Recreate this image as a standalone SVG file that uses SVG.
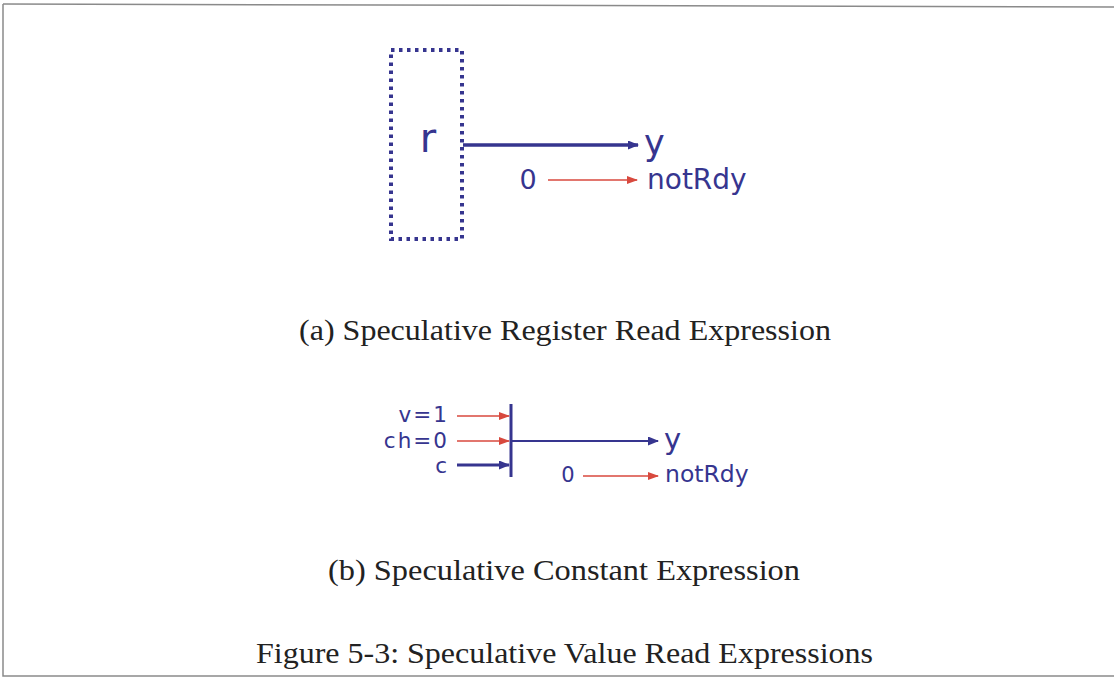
<svg xmlns="http://www.w3.org/2000/svg" width="1114" height="679" viewBox="0 0 1114 679">
<defs>
<style>
.lbl{font-family:"DejaVu Sans","Verdana",sans-serif;fill:#36358f}
.in{font-size:21.5px;letter-spacing:2px}
.cap{font-family:"Liberation Serif","Times New Roman",serif;fill:#222}
.blue{stroke:#36358f;fill:none}
.red{stroke:#d8493e;fill:none;stroke-width:1.6}
.frame{stroke:#8a8a8a;fill:none;stroke-width:1.5}
</style>
<marker id="ab" markerWidth="11" markerHeight="9" refX="10" refY="4.5" orient="auto" markerUnits="userSpaceOnUse">
<path d="M0,0 L11,4.5 L0,9 Z" fill="#36358f"/>
</marker>
<marker id="ar" markerWidth="11" markerHeight="8" refX="10" refY="4" orient="auto" markerUnits="userSpaceOnUse">
<path d="M0,0 L11,4 L0,8 Z" fill="#d8493e"/>
</marker>
</defs>
<rect width="1114" height="679" fill="#fff"/>
<g id="frame">
<path class="frame" d="M3,4 L1114,7"/>
<path class="frame" d="M3,4 L3,676 L1114,676"/>
</g>

<g id="reg-r">
<rect x="391" y="50" width="71" height="189" fill="none" stroke="#36358f" stroke-width="4" stroke-dasharray="3.5 4.5"/>
<text class="lbl" x="428" y="152" font-size="40" text-anchor="middle">r</text>
</g>
<g id="out-y-a"><text class="lbl" x="644" y="155" font-size="35">y</text></g>
<g id="zero-a"><text class="lbl" x="528" y="189" font-size="27" text-anchor="middle">0</text></g>
<g id="notrdy-a"><text class="lbl" x="647" y="189" font-size="28">notRdy</text></g>

<g id="bar-b"><line class="blue" x1="511" y1="404" x2="511" y2="477" stroke-width="3"/></g>
<g id="in-v"><text class="lbl in" x="449" y="422" text-anchor="end">v=1</text></g>
<g id="in-ch"><text class="lbl in" x="449" y="447.5" text-anchor="end">ch=0</text></g>
<g id="in-c"><text class="lbl in" x="449" y="473" text-anchor="end">c</text></g>
<g id="out-y-b"><text class="lbl" x="664" y="449" font-size="29">y</text></g>
<g id="zero-b"><text class="lbl" x="568" y="482" font-size="21" text-anchor="middle">0</text></g>
<g id="notrdy-b"><text class="lbl" x="665" y="482" font-size="23.5">notRdy</text></g>

<g id="connectors">
<line class="blue" x1="463" y1="145" x2="638" y2="145" stroke-width="3.5" marker-end="url(#ab)"/>
<line class="red" x1="548" y1="180" x2="637" y2="180" marker-end="url(#ar)"/>
<line class="red" x1="457" y1="416" x2="509" y2="416" marker-end="url(#ar)"/>
<line class="red" x1="457" y1="441" x2="509" y2="441" marker-end="url(#ar)"/>
<line class="blue" x1="457" y1="465" x2="509" y2="465" stroke-width="3" marker-end="url(#ab)"/>
<line class="blue" x1="511" y1="441" x2="658" y2="441" stroke-width="2.2" marker-end="url(#ab)"/>
<line class="red" x1="583" y1="476" x2="658" y2="476" marker-end="url(#ar)"/>
</g>

<g id="captions">
<text class="cap" x="299" y="340" font-size="29" textLength="532" lengthAdjust="spacingAndGlyphs">(a) Speculative Register Read Expression</text>
<text class="cap" x="328" y="580" font-size="29" textLength="472" lengthAdjust="spacingAndGlyphs">(b) Speculative Constant Expression</text>
<text class="cap" x="256" y="663" font-size="29" textLength="617" lengthAdjust="spacingAndGlyphs">Figure 5-3: Speculative Value Read Expressions</text>
</g>
</svg>
